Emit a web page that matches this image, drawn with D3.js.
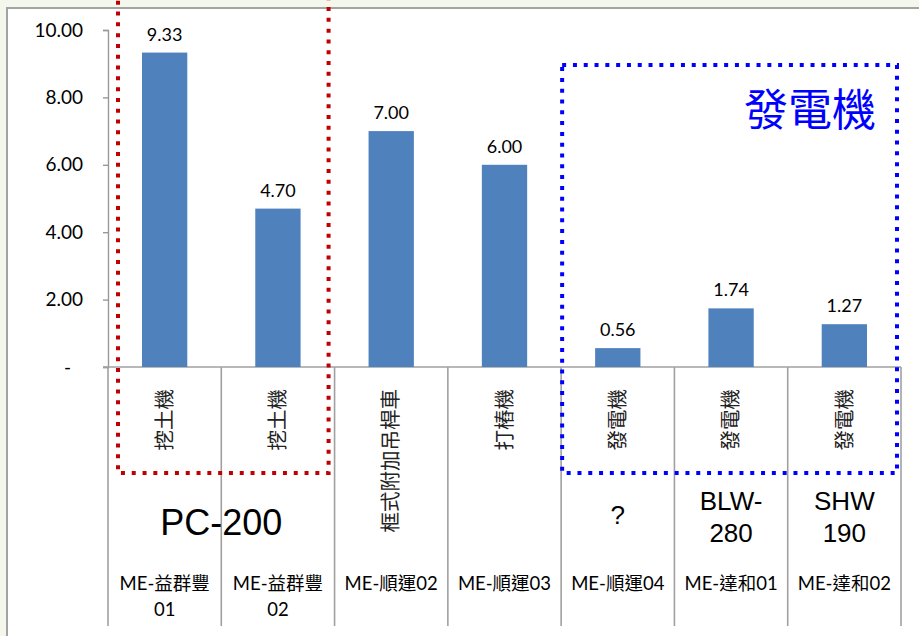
<!DOCTYPE html>
<html>
<head>
<meta charset="utf-8">
<script src="https://cdn.jsdelivr.net/npm/d3@7"></script>
<style>
  html, body { margin: 0; padding: 0; background: #f4f8ec; }
  svg { display: block; }
</style>
</head>
<body>
<svg id="chart"></svg>
<script>
var svgWidth = 919, svgHeight = 636;

// data
var machines = ['挖土機', '挖土機', '框式附加吊桿車', '打樁機', '發電機', '發電機', '發電機'];
var amounts = [9.33, 4.70, 7.00, 6.00, 0.56, 1.74, 1.27];
var ids = [['ME-益群豐', '01'], ['ME-益群豐', '02'], ['ME-順運02'], ['ME-順運03'],
           ['ME-順運04'], ['ME-達和01'], ['ME-達和02']];
var models = [['PC-200'], [], [], [], ['?'], ['BLW-', '280'], ['SHW', '190']];
var modelSpans = [[0, 1], [4, 4], [5, 5], [6, 6]];
var yTicks = [0, 2, 4, 6, 8, 10];

var svg = d3.select('#chart')
    .attr('width', svgWidth)
    .attr('height', svgHeight);

// white chart area
svg.append('rect')
    .attr('x', 7).attr('y', 8)
    .attr('width', 960).attr('height', 700)
    .attr('fill', '#fff')
    .attr('stroke', '#a3a3a3')
    .attr('stroke-width', 2);

var x = d3.scaleBand()
    .domain(d3.range(amounts.length))
    .range([108, 901])
    .padding(0);

var y = d3.scaleLinear()
    .domain([0, 10])
    .range([367, 30]);

var numFont = "Lato, 'Noto Sans CJK TC', sans-serif";
var cjkFont = "'Noto Sans CJK TC', sans-serif";

// y axis
var yAxis = d3.axisLeft(y)
    .tickValues(yTicks)
    .tickSize(5)
    .tickPadding(20)
    .tickFormat(function(d){ return d === 0 ? '-' : d.toFixed(2); });

var yg = svg.append('g')
    .attr('transform', 'translate(108,0)')
    .call(yAxis);
yg.select('.domain').attr('stroke', '#999').attr('stroke-width', 1.4);
yg.selectAll('.tick line').attr('stroke', '#999').attr('stroke-width', 1.4);
yg.selectAll('.tick text')
    .attr('font-family', numFont)
    .attr('font-size', 19)
    .attr('fill', '#000')
    .attr('dx', function(d){ return d === 0 ? -12 : 0; });

// category grid (table lines)
var seps = d3.range(amounts.length + 1).map(function(i){
  return i < amounts.length ? x(i) : x(amounts.length - 1) + x.bandwidth();
});
svg.selectAll('line.sep')
    .data(seps)
    .enter()
    .append('line')
    .attr('class', 'sep')
    .attr('x1', function(d){ return d; })
    .attr('x2', function(d){ return d; })
    .attr('y1', y(0))
    .attr('y2', 626)
    .attr('stroke', '#a0a0a0')
    .attr('stroke-width', 1.6);

svg.append('line')
    .attr('x1', 103).attr('x2', seps[seps.length - 1])
    .attr('y1', y(0)).attr('y2', y(0))
    .attr('stroke', '#a0a0a0')
    .attr('stroke-width', 1.6);

// bars
var barW = x.bandwidth() * 0.4;
svg.selectAll('rect.bar')
    .data(amounts)
    .enter()
    .append('rect')
    .attr('class', 'bar')
    .attr('x', function(d, i){ return x(i) + (x.bandwidth() - barW) / 2; })
    .attr('y', function(d){ return y(d); })
    .attr('width', barW)
    .attr('height', function(d){ return y(0) - y(d); })
    .attr('fill', '#4f81bd');

svg.selectAll('text.val')
    .data(amounts)
    .enter()
    .append('text')
    .attr('class', 'val')
    .attr('x', function(d, i){ return x(i) + x.bandwidth() / 2; })
    .attr('y', function(d){ return y(d) - 12; })
    .attr('text-anchor', 'middle')
    .attr('font-family', numFont)
    .attr('font-size', 18)
    .text(function(d){ return d.toFixed(2); });

// rotated machine names
svg.selectAll('text.machine')
    .data(machines)
    .enter()
    .append('text')
    .attr('class', 'machine')
    .attr('transform', function(d, i){
      return 'translate(' + (x(i) + x.bandwidth() / 2) + ',389) rotate(-90)';
    })
    .attr('text-anchor', 'end')
    .attr('dy', '0.35em')
    .attr('font-family', cjkFont)
    .attr('font-size', 20.5)
    .attr('fill', '#222')
    .text(function(d){ return d; });

// model names
modelSpans.forEach(function(span){
  var lines = models[span[0]];
  var cx = (x(span[0]) + x(span[1]) + x.bandwidth()) / 2;
  var big = lines[0] === 'PC-200';
  var t = svg.append('text')
      .attr('text-anchor', 'middle')
      .attr('font-family', "'Liberation Sans', Arial, sans-serif")
      .attr('font-size', big ? 36 : 26)
      .attr('fill', '#000');
  lines.forEach(function(l, k){
    var by;
    if (big) by = 535;
    else if (lines.length === 1) by = 524;
    else by = 510 + k * 32;
    t.append('tspan').attr('x', cx).attr('y', by).text(l);
  });
});

// ids
ids.forEach(function(lines, i){
  var t = svg.append('text')
      .attr('text-anchor', 'middle')
      .attr('font-family', numFont)
      .attr('font-size', 18.5)
      .attr('fill', '#000');
  lines.forEach(function(l, k){
    t.append('tspan')
        .attr('x', x(i) + x.bandwidth() / 2)
        .attr('y', 590 + k * 26)
        .text(l);
  });
});

// highlight boxes
svg.append('rect')
    .attr('x', x(0) + 10).attr('y', -20)
    .attr('width', x(1) + x.bandwidth() - 6 - (x(0) + 10))
    .attr('height', 473 + 20)
    .attr('fill', 'none')
    .attr('stroke', '#c00000')
    .attr('stroke-width', 4)
    .attr('stroke-dasharray', '4,6.8');

svg.append('rect')
    .attr('x', x(4) + 1).attr('y', 65)
    .attr('width', x(6) + x.bandwidth() - 4 - (x(4) + 1))
    .attr('height', 473 - 65)
    .attr('fill', 'none')
    .attr('stroke', '#0000ff')
    .attr('stroke-width', 4)
    .attr('stroke-dasharray', '4,6.8');

svg.append('text')
    .attr('x', 876).attr('y', 126)
    .attr('text-anchor', 'end')
    .attr('font-family', cjkFont)
    .attr('font-size', 44)
    .attr('fill', '#0000ff')
    .text('發電機');
</script>
</body>
</html>
